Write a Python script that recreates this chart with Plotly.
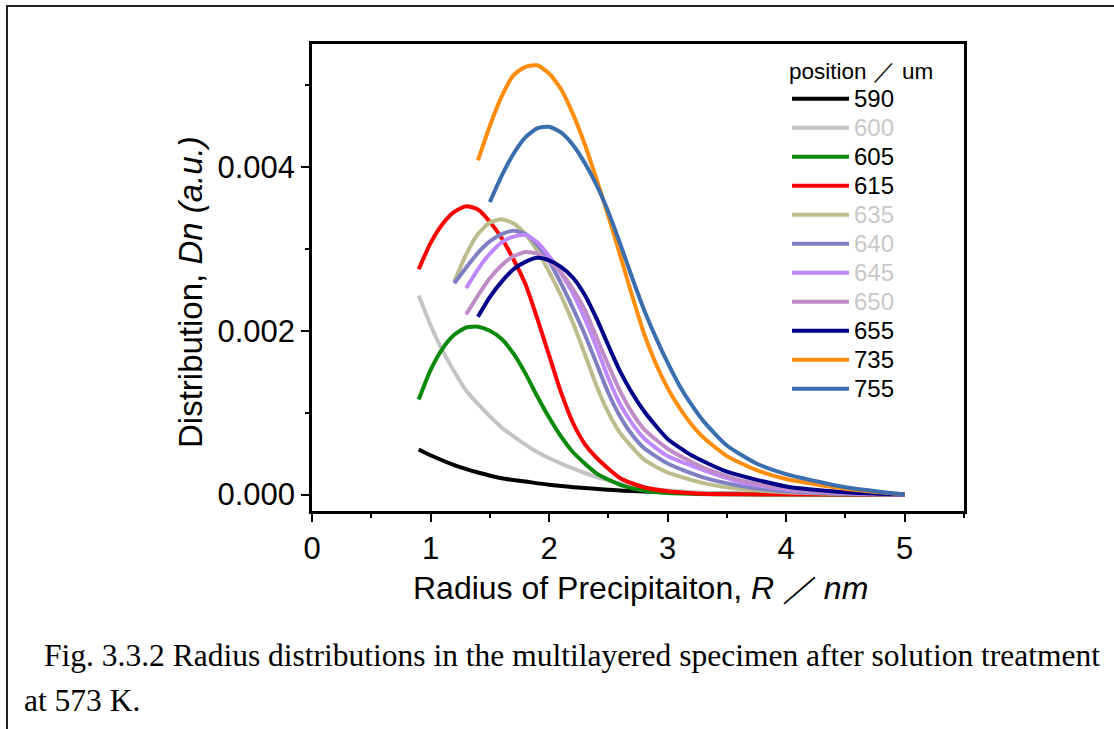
import plotly.graph_objects as go

# ---- data ----
positions = ["590", "600", "605", "615", "635", "640", "645", "650", "655", "735", "755"]
colors = ["#000000", "#c4c4c4", "#0a8a0a", "#ff0000", "#bcbc8c", "#7f7fc4",
          "#bf88ff", "#c08cc8", "#000088", "#ff8c0a", "#3a6eae"]
label_colors = ["#000000", "#c8c8c8", "#000000", "#000000", "#c8c8c8", "#c8c8c8",
                "#c8c8c8", "#c8c8c8", "#000000", "#000000", "#000000"]

x_590 = [0.9, 1.0, 1.2, 1.4, 1.6, 1.8, 2.0, 2.3, 2.6, 3.0, 3.5, 4.0, 4.5, 5.0]
y_590 = [0.00055, 0.00048, 0.00036, 0.00027, 0.00020, 0.00016, 0.00012, 0.00008,
         0.00005, 0.00003, 0.000013, 0.000006, 0.000002, 0.0]

x_600 = [0.9, 1.0, 1.1, 1.3, 1.6, 1.9, 2.2, 2.5, 2.8, 3.2, 3.6, 4.0, 4.5, 5.0]
y_600 = [0.00243, 0.00207, 0.00176, 0.00127, 0.00082, 0.00052, 0.00032, 0.00017,
         0.00008, 0.00003, 0.000012, 0.000005, 0.000002, 0.0]

x_605 = [0.9, 1.0, 1.1, 1.2, 1.3, 1.4, 1.5, 1.6, 1.7, 1.8, 1.9, 2.0, 2.1, 2.2, 2.4,
         2.6, 2.8, 3.0, 3.5, 4.0, 5.0]
y_605 = [0.00116, 0.00152, 0.00178, 0.00195, 0.00204, 0.00205, 0.00200, 0.00190,
         0.00172, 0.00148, 0.00120, 0.00094, 0.00071, 0.00052, 0.00026, 0.00012,
         0.00005, 0.00002, 0.000003, 0.0, 0.0]

x_615 = [0.9, 1.0, 1.1, 1.2, 1.3, 1.4, 1.5, 1.6, 1.7, 1.8, 1.9, 2.0, 2.1, 2.2, 2.3,
         2.4, 2.6, 2.8, 3.0, 3.3, 3.6, 4.0, 5.0]
y_615 = [0.00275, 0.00307, 0.00330, 0.00345, 0.00352, 0.00348, 0.00333, 0.00313,
         0.00287, 0.00257, 0.00215, 0.00170, 0.00125, 0.00088, 0.00062, 0.00045,
         0.00020, 0.00009, 0.00004, 0.00001, 0.000003, 0.0, 0.0]

x_635 = [1.2, 1.3, 1.4, 1.5, 1.6, 1.7, 1.8, 1.9, 2.0, 2.1, 2.2, 2.3, 2.4, 2.5, 2.6,
         2.8, 3.0, 3.3, 3.6, 4.0, 4.5, 5.0]
y_635 = [0.00260, 0.00293, 0.00318, 0.00332, 0.00336, 0.00331, 0.00318, 0.00298,
         0.00272, 0.00243, 0.00210, 0.00172, 0.00133, 0.00100, 0.00075, 0.00043,
         0.00027, 0.00014, 0.00007, 0.00003, 0.00001, 0.0]

x_640 = [1.2, 1.3, 1.4, 1.5, 1.6, 1.7, 1.8, 1.9, 2.0, 2.1, 2.2, 2.3, 2.4, 2.5, 2.6,
         2.7, 2.8, 3.0, 3.3, 3.6, 4.0, 4.5, 5.0]
y_640 = [0.00258, 0.00277, 0.00295, 0.00309, 0.00318, 0.00322, 0.00318, 0.00305,
         0.00285, 0.00258, 0.00228, 0.00196, 0.00160, 0.00124, 0.00095, 0.00073,
         0.00057, 0.00038, 0.00021, 0.00011, 0.00004, 0.00001, 0.0]

x_645 = [1.3, 1.4, 1.5, 1.6, 1.7, 1.8, 1.9, 2.0, 2.1, 2.2, 2.3, 2.4, 2.5, 2.6, 2.7,
         2.8, 3.0, 3.3, 3.6, 4.0, 4.5, 5.0]
y_645 = [0.00252, 0.00275, 0.00294, 0.00308, 0.00315, 0.00317, 0.00308, 0.00291,
         0.00270, 0.00246, 0.00215, 0.00180, 0.00142, 0.00110, 0.00087, 0.00069,
         0.00047, 0.00030, 0.00016, 0.00006, 0.00002, 0.0]

x_650 = [1.3, 1.4, 1.5, 1.6, 1.7, 1.8, 1.9, 2.0, 2.1, 2.2, 2.3, 2.4, 2.5, 2.6, 2.7,
         2.8, 3.0, 3.3, 3.6, 4.0, 4.5, 5.0]
y_650 = [0.00220, 0.00243, 0.00264, 0.00280, 0.00291, 0.00296, 0.00294, 0.00285,
         0.00271, 0.00251, 0.00226, 0.00192, 0.00158, 0.00126, 0.00100, 0.00080,
         0.00056, 0.00033, 0.00018, 0.00007, 0.00002, 0.0]

x_655 = [1.4, 1.5, 1.6, 1.7, 1.8, 1.9, 2.0, 2.1, 2.2, 2.3, 2.4, 2.5, 2.6, 2.7, 2.8,
         2.9, 3.0, 3.2, 3.5, 4.0, 4.5, 5.0]
y_655 = [0.00217, 0.00241, 0.00260, 0.00275, 0.00284, 0.00289, 0.00286, 0.00278,
         0.00265, 0.00244, 0.00215, 0.00182, 0.00150, 0.00124, 0.00102, 0.00084,
         0.00068, 0.00048, 0.00028, 0.00010, 0.00003, 0.0]

x_735 = [1.4, 1.5, 1.6, 1.7, 1.8, 1.9, 2.0, 2.1, 2.2, 2.3, 2.4, 2.5, 2.6, 2.7, 2.8,
         2.9, 3.0, 3.1, 3.2, 3.3, 3.5, 3.75, 4.0, 4.5, 5.0]
y_735 = [0.00408, 0.00450, 0.00486, 0.00512, 0.00522, 0.00524, 0.00514, 0.00495,
         0.00465, 0.00428, 0.00385, 0.00340, 0.00292, 0.00243, 0.00197, 0.00160,
         0.00130, 0.00106, 0.00086, 0.00070, 0.00047, 0.00030, 0.00019, 0.00007, 0.0]

x_755 = [1.5, 1.6, 1.7, 1.8, 1.9, 2.0, 2.1, 2.2, 2.3, 2.4, 2.5, 2.6, 2.7, 2.8, 2.9,
         3.0, 3.1, 3.2, 3.3, 3.5, 3.75, 4.0, 4.5, 5.0]
y_755 = [0.00357, 0.00389, 0.00416, 0.00436, 0.00447, 0.00449, 0.00442, 0.00427,
         0.00405, 0.00378, 0.00345, 0.00306, 0.00265, 0.00226, 0.00192, 0.00161,
         0.00133, 0.00110, 0.00090, 0.00060, 0.00038, 0.00025, 0.00009, 0.0]

xs = [x_590, x_600, x_605, x_615, x_635, x_640, x_645, x_650, x_655, x_735, x_755]
ys = [y_590, y_600, y_605, y_615, y_635, y_640, y_645, y_650, y_655, y_735, y_755]

x_ticks = [0, 1, 2, 3, 4, 5]
y_ticks = [0.0, 0.002, 0.004]
y_tick_text = ["0.000", "0.002", "0.004"]

# ---- layout geometry (pixels) ----
W, H = 1114, 729
L, R, T, B = 312, 964, 44, 511


def px(xp, yp):
    return (xp - L) / (R - L), (B - yp) / (B - T)


SANS = "Liberation Sans, Arial, sans-serif"
SERIF = "Liberation Serif, Times New Roman, serif"

fig = go.Figure()
for name, c, lc, x, y in zip(positions, colors, label_colors, xs, ys):
    fig.add_trace(go.Scatter(
        x=x, y=y, mode="lines",
        name=f"<span style='color:{lc};font-size:24px'>{name}</span>",
        line=dict(color=c, width=4, shape="spline", smoothing=0.6),
    ))

axis_font = dict(family=SANS, size=31, color="#000")
fig.update_xaxes(range=[0, 5.5], tickvals=x_ticks, showgrid=False, zeroline=False,
                 showline=True, linecolor="#000", linewidth=2.5, mirror=True,
                 ticks="outside", ticklen=8, tickwidth=2, tickcolor="#000",
                 minor=dict(dtick=0.5, tick0=0, ticks="outside", ticklen=4,
                            tickwidth=2, tickcolor="#000"),
                 tickfont=axis_font)
fig.update_yaxes(range=[-0.0002, 0.0055], tickvals=y_ticks, ticktext=y_tick_text,
                 showgrid=False, zeroline=False,
                 showline=True, linecolor="#000", linewidth=2.5, mirror=True,
                 ticks="outside", ticklen=8, tickwidth=2, tickcolor="#000",
                 minor=dict(dtick=0.001, tick0=0, ticks="outside", ticklen=4,
                            tickwidth=2, tickcolor="#000"),
                 tickfont=axis_font)

lx, ly = px(787, 50)
fig.update_layout(
    width=W, height=H,
    margin=dict(l=L, r=W - R, t=T, b=H - B),
    paper_bgcolor="white", plot_bgcolor="white",
    showlegend=True,
    legend=dict(x=lx, y=ly, xanchor="left", yanchor="top",
                bgcolor="rgba(0,0,0,0)", borderwidth=0,
                font=dict(family=SANS, size=20, color="#000"),
                title=dict(text="position ／ um", font=dict(family=SANS, size=22.5, color="#000")),
                itemwidth=57, tracegroupgap=0),
)

ytx, yty = px(190, 292)
xtx, xty = px(640, 588)
c1x, c1y = px(42, 655)
c2x, c2y = px(22, 700)
fig.add_annotation(x=ytx, y=yty, xref="paper", yref="paper", showarrow=False,
                   textangle=-90, xanchor="center", yanchor="middle",
                   text="Distribution, <i>Dn (a.u.)</i>",
                   font=dict(family=SANS, size=33, color="#000"))
fig.add_annotation(x=xtx, y=xty, xref="paper", yref="paper", showarrow=False,
                   xanchor="center", yanchor="middle",
                   text="Radius of Precipitaiton, <i>R ／ nm</i>",
                   font=dict(family=SANS, size=32, color="#000"))
fig.add_annotation(x=c1x, y=c1y, xref="paper", yref="paper", showarrow=False,
                   xanchor="left", yanchor="middle",
                   text="Fig. 3.3.2 Radius distributions in the multilayered specimen after solution treatment",
                   font=dict(family=SERIF, size=31.5, color="#000"))
fig.add_annotation(x=c2x, y=c2y, xref="paper", yref="paper", showarrow=False,
                   xanchor="left", yanchor="middle",
                   text="at 573 K.",
                   font=dict(family=SERIF, size=31.5, color="#000"))

# outer page frame (top and left edges)
bx0, by0 = px(7, 740)
bx1, by1 = px(7, 6)
bx2, by2 = px(1120, 6)
fig.add_shape(type="path", xref="paper", yref="paper",
              path=f"M {bx0} {by0} L {bx1} {by1} L {bx2} {by2}",
              line=dict(color="#222", width=2))

fig.write_html("out.html")
